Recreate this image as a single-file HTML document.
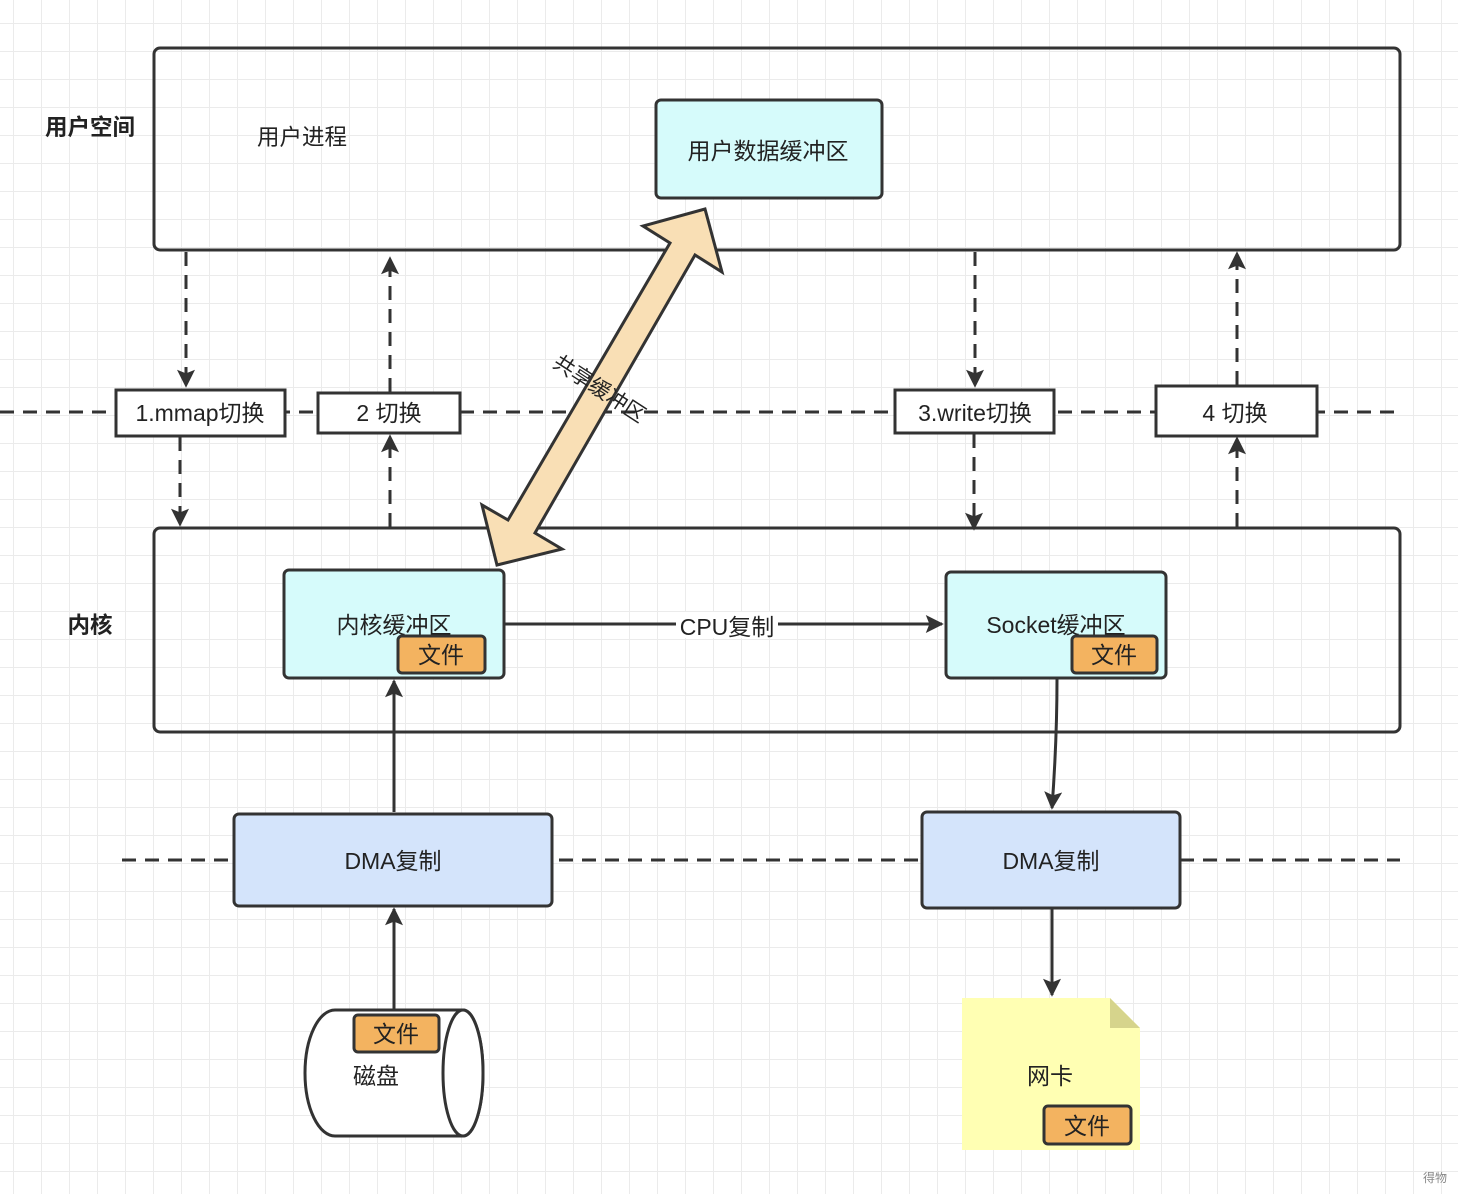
<!DOCTYPE html>
<html><head><meta charset="utf-8"><style>
html,body{margin:0;padding:0;background:#fff}
svg text{font-family:"Liberation Sans","Noto Sans CJK SC",sans-serif;fill:#222}
</style></head><body>
<svg width="1458" height="1194" viewBox="0 0 1458 1194" xmlns="http://www.w3.org/2000/svg">
<defs>
<pattern id="g" x="13" y="23" width="28" height="28" patternUnits="userSpaceOnUse">
<path d="M0 0H28M0 0V28" stroke="#ebebeb" stroke-width="2" fill="none"/>
</pattern>
<marker id="a" viewBox="0 0 10 10" refX="9" refY="5" markerWidth="6.5" markerHeight="6" orient="auto" markerUnits="strokeWidth">
<path d="M0 0L10 5L0 10L2 5z" fill="#333"/>
</marker>
</defs>
<rect width="1458" height="1194" fill="#fff"/>
<rect width="1458" height="1194" fill="url(#g)"/>

<g stroke="#333" stroke-width="3" stroke-dasharray="14,9" fill="none">
<line x1="0" y1="412" x2="1400" y2="412"/>
<line x1="122" y1="860" x2="1400" y2="860"/>
</g>

<rect x="154" y="48" width="1246" height="202" rx="6" fill="none" stroke="#333" stroke-width="3"/>
<rect x="154" y="528" width="1246" height="204" rx="6" fill="none" stroke="#333" stroke-width="3"/>
<text x="90" y="135" font-size="22.5" font-weight="bold" text-anchor="middle">用户空间</text>
<text x="302" y="145" font-size="22.5" text-anchor="middle">用户进程</text>
<text x="90" y="633" font-size="22.5" font-weight="bold" text-anchor="middle">内核</text>

<rect x="656" y="100" width="226" height="98" rx="5" fill="#d6fbfb" stroke="#333" stroke-width="3"/>
<text x="768" y="159" font-size="23" text-anchor="middle">用户数据缓冲区</text>

<g stroke="#333" stroke-width="3" stroke-dasharray="14,9" fill="none" marker-end="url(#a)">
<line x1="186" y1="252" x2="186" y2="386"/>
<line x1="180" y1="437" x2="180" y2="525"/>
<line x1="390" y1="527" x2="390" y2="436"/>
<line x1="390" y1="392" x2="390" y2="258"/>
<line x1="975" y1="252" x2="975" y2="386"/>
<line x1="974" y1="434" x2="974" y2="529"/>
<line x1="1237" y1="527" x2="1237" y2="438"/>
<line x1="1237" y1="385" x2="1237" y2="253"/>
</g>

<g stroke="#333" stroke-width="3" fill="#fff">
<rect x="116" y="390" width="169" height="46"/>
<rect x="318" y="393" width="142" height="40"/>
<rect x="895" y="390" width="159" height="43"/>
<rect x="1156" y="386" width="161" height="50"/>
</g>
<g font-size="23" text-anchor="middle">
<text x="200" y="421">1.mmap切换</text>
<text x="389" y="421">2 切换</text>
<text x="975" y="421">3.write切换</text>
<text x="1235" y="421">4 切换</text>
</g>

<rect x="284" y="570" width="220" height="108" rx="5" fill="#d6fbfb" stroke="#333" stroke-width="3"/>
<text x="394" y="633" font-size="23" text-anchor="middle">内核缓冲区</text>
<rect x="398" y="636" width="87" height="37" rx="4" fill="#f3b360" stroke="#333" stroke-width="3"/>
<text x="441" y="663" font-size="23" text-anchor="middle">文件</text>

<rect x="946" y="572" width="220" height="106" rx="5" fill="#d6fbfb" stroke="#333" stroke-width="3"/>
<text x="1056" y="633" font-size="23" text-anchor="middle">Socket缓冲区</text>
<rect x="1072" y="636" width="85" height="37" rx="4" fill="#f3b360" stroke="#333" stroke-width="3"/>
<text x="1114" y="663" font-size="23" text-anchor="middle">文件</text>

<line x1="505" y1="624" x2="942" y2="624" stroke="#333" stroke-width="3" marker-end="url(#a)"/>
<rect x="676" y="612" width="102" height="26" fill="#fff"/>
<text x="727" y="635" font-size="23" text-anchor="middle">CPU复制</text>

<g stroke="#333" stroke-width="3" fill="none" marker-end="url(#a)">
<line x1="394" y1="812" x2="394" y2="681"/>
<line x1="394" y1="1010" x2="394" y2="909"/>
<path d="M1057 679 Q1057 740 1052 808"/>
<line x1="1052" y1="909" x2="1052" y2="995"/>
</g>

<rect x="234" y="814" width="318" height="92" rx="5" fill="#d4e4fb" stroke="#333" stroke-width="3"/>
<text x="393" y="869" font-size="23" text-anchor="middle">DMA复制</text>
<rect x="922" y="812" width="258" height="96" rx="5" fill="#d4e4fb" stroke="#333" stroke-width="3"/>
<text x="1051" y="869" font-size="23" text-anchor="middle">DMA复制</text>

<path d="M335 1010 H463 A20 63 0 0 1 463 1136 H335 A30 63 0 0 1 335 1010 Z" fill="#fff" stroke="#333" stroke-width="3"/>
<ellipse cx="463" cy="1073" rx="20" ry="63" fill="#fff" stroke="#333" stroke-width="3"/>
<rect x="354" y="1015" width="85" height="37" rx="4" fill="#f3b360" stroke="#333" stroke-width="3"/>
<text x="396" y="1042" font-size="23" text-anchor="middle">文件</text>
<text x="376" y="1084" font-size="23" text-anchor="middle">磁盘</text>

<path d="M962 998 H1110 L1140 1028 V1150 H962 Z" fill="#ffffb3"/>
<path d="M1110 998 L1140 1028 H1110 Z" fill="#d6d48c"/>
<text x="1050" y="1084" font-size="23" text-anchor="middle">网卡</text>
<rect x="1044" y="1106" width="87" height="38" rx="4" fill="#f3b360" stroke="#333" stroke-width="3"/>
<text x="1087" y="1134" font-size="23" text-anchor="middle">文件</text>

<polygon points="705,209 722,272 695,255 535,533 562,549 497,565 482,505 508,520 670,243 643,226" fill="#f9dfb5" stroke="#333" stroke-width="3" stroke-linejoin="miter"/>
<text x="600" y="396" font-size="21" text-anchor="middle" transform="rotate(33 600 388)">共享缓冲区</text>

<text x="1435" y="1182" font-size="12" text-anchor="middle" style="fill:#888">得物</text>
</svg>
</body></html>
